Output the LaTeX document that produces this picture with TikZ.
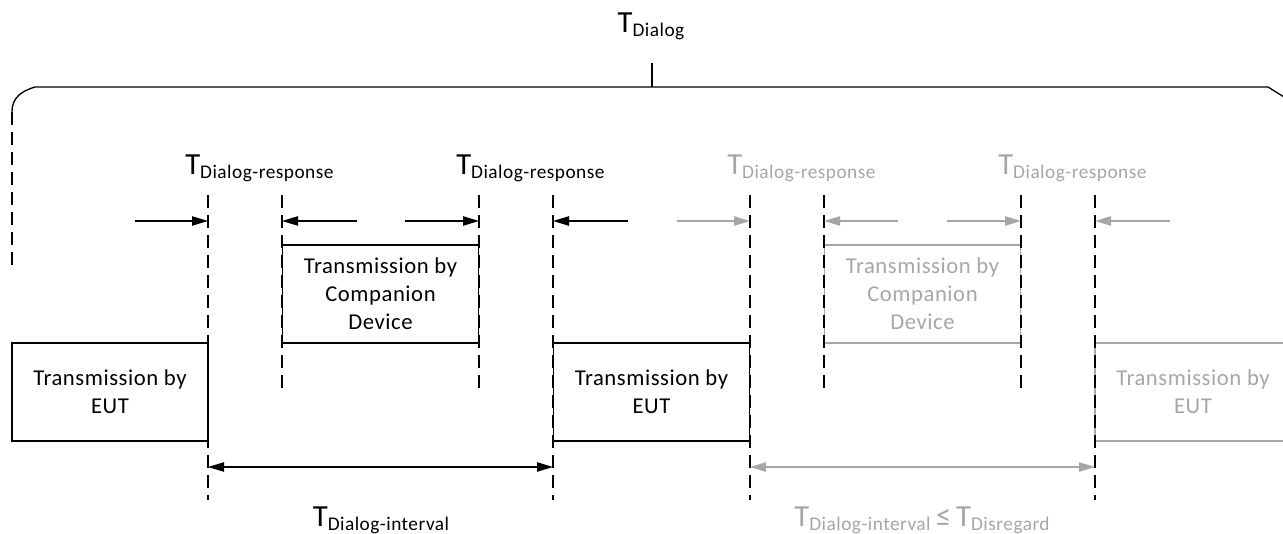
\documentclass[tikz,border=0pt]{standalone}
\usepackage{fontspec}
\setmainfont{Carlito}
\newfontfamily\spacedfont[LetterSpace=2.5]{Carlito}
\usetikzlibrary{arrows.meta}
\definecolor{lightg}{HTML}{A6A6A6}
\newcommand{\Tlab}[1]{{\fontsize{23}{26}\selectfont T}\raisebox{-2.5pt}{\spacedfont\fontsize{14.5}{16}\selectfont #1}}
\begin{document}
\begin{tikzpicture}[x=0.75pt,y=-0.75pt,
 boxtext/.style={font=\spacedfont\fontsize{17}{21}\selectfont, align=center},
 txbox/.style={draw, line width=1pt, minimum width=147pt, minimum height=73.5pt, inner sep=0pt, boxtext},
 dline/.style={draw=black, dash pattern=on 10pt off 5pt, line width=1.3pt},
 arr/.style={-{Triangle[length=12pt,width=7pt]}, line width=1pt},
 dbl/.style={{Triangle[length=12pt,width=7pt]}-{Triangle[length=12pt,width=7pt]}, line width=1pt},
 faded/.style={color=lightg},
 lab/.style={inner sep=0pt, anchor=base west},
]
\useasboundingbox (0,0) rectangle (1283,534);
\clip (0,0) rectangle (1283,534);

% boxes
\node[txbox] (eut1) at (110,392) {Transmission by\\EUT};
\node[txbox] (comp1) at (380.5,294) {Transmission by\\Companion\\Device};
\node[txbox] (eut2) at (651.5,392) {Transmission by\\EUT};
\node[txbox,faded] (comp2) at (922.5,294) {Transmission by\\Companion\\Device};
\node[txbox,faded] (eut3) at (1193,392) {Transmission by\\EUT};

% dashed time marks
\foreach \i/\x/\yb in {1/208/500, 2/282/390, 3/479/390, 4/553/500, 5/750/500, 6/824/390, 7/1021/390, 8/1095/500} {
  \coordinate (t\i) at (\x,195);
  \coordinate (b\i) at (\x,\yb);
  \draw[dline] (t\i) -- (b\i);
}

% response arrows
\coordinate (s1) at (135,221);
\coordinate (s2) at (357,221);
\coordinate (s3) at (405,221);
\coordinate (s4) at (628,221);
\coordinate (s5) at (677,221);
\coordinate (s6) at (898,221);
\coordinate (s7) at (947,221);
\coordinate (s8) at (1170,221);
\draw[arr] (s1) -- (t1 |- s1);
\draw[arr] (s2) -- (t2 |- s2);
\draw[arr] (s3) -- (t3 |- s3);
\draw[arr] (s4) -- (t4 |- s4);
\draw[arr,faded] (s5) -- (t5 |- s5);
\draw[arr,faded] (s6) -- (t6 |- s6);
\draw[arr,faded] (s7) -- (t7 |- s7);
\draw[arr,faded] (s8) -- (t8 |- s8);

% interval arrows
\coordinate (lv) at (0,467);
\draw[dbl] (t1 |- lv) -- (t4 |- lv);
\draw[dbl,faded] (t5 |- lv) -- (t8 |- lv);

% brace
\coordinate (bl) at (12,270);
\coordinate (tk) at (652,87);
\coordinate (tktop) at (652,63);
\draw[line width=1pt] (12,112) .. controls (12,97) and (22,91) .. (35,87) -- (1268,87) -- (1292,102);
\draw[dline] (12,112) -- (bl);
\draw[line width=1.5pt] (tk) -- (tktop);

% labels
\node[inner sep=0pt, anchor=base] (ld) at (651,33) {\Tlab{Dialog}};
\node[lab] (lr1) at (185,175) {\Tlab{Dialog-response}};
\node[lab] (lr2) at (456,175) {\Tlab{Dialog-response}};
\node[lab,faded] (lr3) at (727,175) {\Tlab{Dialog-response}};
\node[lab,faded] (lr4) at (998,175) {\Tlab{Dialog-response}};
\node[inner sep=0pt, anchor=base] (li1) at (381,527) {\Tlab{Dialog-interval}};
\node[inner sep=0pt, anchor=base, faded] (li2) at (922,527) {\Tlab{Dialog-interval}{\fontsize{23}{26}\selectfont\,≤\,}\Tlab{Disregard}};
\end{tikzpicture}
\end{document}
